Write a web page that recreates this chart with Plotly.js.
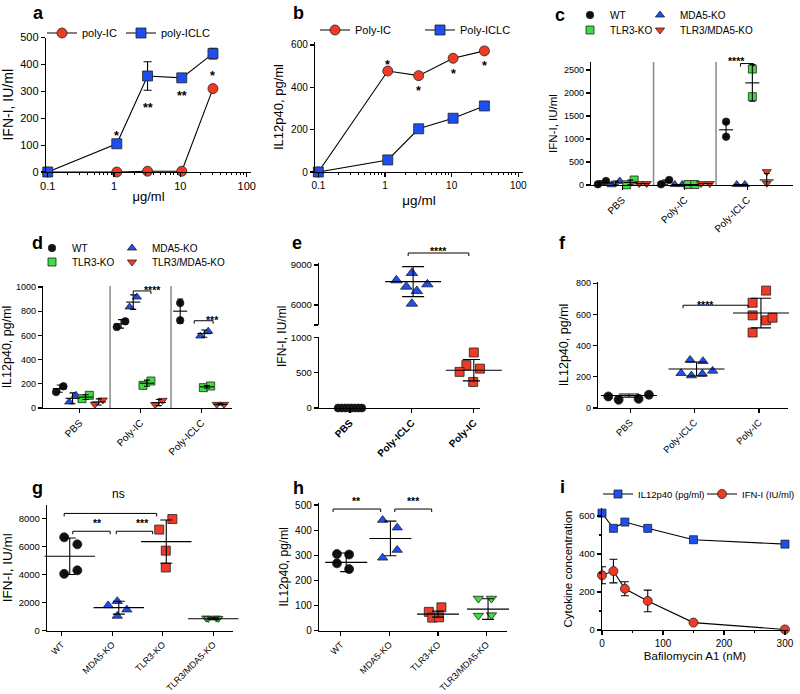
<!DOCTYPE html>
<html><head><meta charset="utf-8">
<script src="https://cdn.plot.ly/plotly-3.0.1.min.js"></script>
<style>html,body{margin:0;padding:0;background:#fff;overflow:hidden;width:800px;height:694px}#chart{width:800px;height:694px;overflow:hidden}</style>
</head><body><div id="chart"></div>
<script>
// ---------------- data ----------------
// panel a
const aDose = [0.1, 1.1, 3.2, 10.5, 31];
const aPolyIC = [0, 0, 3, 3, 310];
const aPolyICLC = [0, 105, 357, 350, 440];
const aPolyICLCerr = [0, 0, 53, 0, 20];
// panel b
const bDose = [0.1, 1.1, 3.2, 10.5, 31];
const bPolyIC = [0, 477, 455, 537, 572];
const bPolyICLC = [0, 57, 204, 254, 312];
// panel c (x = category index + jitter)
const cCats = ['PBS', 'Poly-IC', 'Poly-ICLC'];
const cWTx = [0.11, 0.24, 1.12, 1.25, 2.16, 2.16], cWTy = [15, 87, 15, 109, 1050, 1377];
const cMDAx = [0.33, 0.46, 1.34, 1.46, 2.33, 2.46], cMDAy = [5, 87, 10, 10, 10, 10];
const cTLRx = [0.57, 0.69, 1.55, 1.66, 2.58, 2.58], cTLRy = [5, 109, 10, 10, 1920, 2520];
const cDKOx = [0.77, 0.89, 1.76, 1.90, 2.81, 2.81], cDKOy = [30, 30, 30, 30, 36, 290];
const cWTmx = [0.175, 1.185, 2.16], cWTm = [55, 62, 1200], cWTsd = [35, 45, 150];
const cMDAmx = [0.395, 1.40, 2.395], cMDAm = [45, 10, 10], cMDAsd = [40, 0, 0];
const cTLRmx = [0.63, 1.605, 2.58], cTLRm = [55, 10, 2220], cTLRsd = [50, 0, 400];
const cDKOmx = [0.83, 1.83, 2.81], cDKOm = [30, 30, 110], cDKOsd = [0, 0, 140];
// panel d
const dWTx = [0.115, 0.235, 1.11, 1.25, 2.15, 2.15], dWTy = [132, 179, 669, 716, 868, 725];
const dMDAx = [0.33, 0.44, 1.32, 1.44, 2.48, 2.61], dMDAy = [50, 105, 835, 917, 595, 634];
const dTLRx = [0.54, 0.66, 1.54, 1.67, 2.53, 2.65], dTLRy = [77, 105, 187, 223, 168, 182];
const dDKOx = [0.75, 0.88, 1.74, 1.86, 2.75, 2.87], dDKOy = [30, 66, 28, 63, 30, 30];
const dWTmx = [0.175, 1.18, 2.15], dWTm = [160, 695, 800], dWTsd = [30, 35, 100];
const dMDAmx = [0.385, 1.38, 2.545], dMDAm = [80, 875, 615], dMDAsd = [45, 60, 30];
const dTLRmx = [0.60, 1.605, 2.59], dTLRm = [90, 205, 175], dTLRsd = [20, 25, 10];
const dDKOmx = [0.815, 1.80, 2.81], dDKOm = [50, 45, 30], dDKOsd = [25, 25, 5];
// panel e
const eCats = ['PBS', 'Poly-ICLC', 'Poly-IC'];
const ePBSx = [-0.19, -0.135, -0.08, -0.025, 0.025, 0.08, 0.135, 0.19], ePBSy = [0, 0, 0, 0, 0, 0, 0, 0];
const eICLCx = [0.75, 1.0, 0.91, 1.08, 1.25, 1.0], eICLCy = [7850, 8400, 7375, 7050, 7550, 6100];
const eICx = [2.0, 1.88, 1.77, 2.1, 1.99, 2.19], eICy = [790, 610, 514, 560, 371, 395];
const eICLCmx = [1.02], eICLCm = [7750], eICLCsd = [1125];
const eICmx = [2.0], eICm = [538], eICsd = [152];
// panel f
const fPBSx = [-0.34, -0.18, 0.13, 0.29], fPBSy = [74, 53, 59, 85];
const fICLCx = [0.93, 1.13, 0.79, 0.95, 1.12, 1.28], fICLCy = [308, 300, 223, 208, 219, 238];
const fICx = [2.11, 1.9, 1.9, 2.11, 2.21, 1.9], fICy = [753, 675, 594, 562, 579, 484];
const fMx = [-0.02, 1.03, 2.03], fM = [80, 250, 609], fSD = [10, 45, 95];
// panel g
const ghCats = ['WT', 'MDA5-KO', 'TLR3-KO', 'TLR3/MDA5-KO'];
const gWTx = [0.05, 0.31, 0.05, 0.31], gWTy = [6650, 6150, 4050, 4300];
const gMDAx = [0.92, 1.10, 1.29, 1.10], gMDAy = [1800, 2100, 1500, 1050];
const gTLRx = [1.93, 2.19, 2.06, 2.06], gTLRy = [7200, 7950, 5700, 4500];
const gDKOx = [2.86, 2.90, 3.06, 3.10], gDKOy = [900, 870, 900, 870];
const gMx = [0.16, 1.13, 2.07, 3.0], gM = [5300, 1640, 6340, 850], gSD = [1300, 460, 1540, 60];
// panel h
const hWTx = [-0.08, 0.17, -0.08, 0.17], hWTy = [305, 303, 268, 245];
const hMDAx = [0.86, 1.16, 1.16, 0.86], hMDAy = [440, 410, 321, 290];
const hTLRx = [1.81, 2.07, 1.88, 2.02], hTLRy = [75, 93, 52, 53];
const hDKOx = [2.83, 3.10, 2.83, 3.10], hDKOy = [128, 128, 60, 62];
const hMx = [0.11, 1.02, 2.0, 3.03], hM = [272, 367, 66, 86], hSD = [37, 69, 12, 41];
// panel i
const iDose = [0, 18.75, 37.5, 75, 150, 300];
const iIL12 = [615, 535, 568, 535, 475, 452];
const iIFN = [288, 310, 217, 153, 39, 3];
const iIFNerr = [45, 62, 37, 57, 0, 0];

// ---------------- style ----------------
const F = 'Liberation Sans, Arial, Helvetica, sans-serif';
const RED = '#ef3b24', BLUE = '#1d4ff0', GREEN = '#3edc3e', BLACK = '#111111';
const W = 800, H = 694;
const px = v => v / W;
const py = v => 1 - v / H;

function base(fs) {
  return {showline: true, linecolor: '#000', linewidth: 1.2, ticks: 'outside', ticklen: 4, tickwidth: 1.2,
    tickcolor: '#000', showgrid: false, zeroline: false, fixedrange: true, automargin: false,
    tickfont: {family: F, size: fs || 10, color: '#000'}};
}
function X(l, r, range, anchor, extra, fs) { return Object.assign(base(fs), {domain: [px(l), px(r)], range: range, anchor: anchor}, extra || {}); }
function Y(t, b, range, anchor, extra, fs) { return Object.assign(base(fs), {domain: [py(b), py(t)], range: range, anchor: anchor}, extra || {}); }
function ttl(text, size, standoff) { return {text: text, font: {family: F, size: size || 12, color: '#000'}, standoff: standoff === undefined ? 4 : standoff}; }

const logMinor = [];
[0.1, 1, 10].forEach(d => { for (let k = 2; k <= 9; k++) logMinor.push(+(d * k).toFixed(2)); });
const minorLog = {tickvals: logMinor, ticks: 'outside', ticklen: 2, tickcolor: '#000', tickwidth: 1};

const catX = (vals, text, bold) => ({tickmode: 'array', tickvals: vals, ticktext: text.map(t => bold ? '<b>' + t + '</b>' : t), tickangle: -45});

const L = {
  width: W, height: H, margin: {l: 0, r: 0, t: 0, b: 0, pad: 0, autoexpand: false}, paper_bgcolor: '#fff', plot_bgcolor: 'rgba(0,0,0,0)',
  showlegend: true, font: {family: F, color: '#000'}
};
L.xaxis = X(46, 251, [-1.026, 2.065], 'y', {type: 'log', tickmode: 'array', tickvals: [0.1, 1, 10, 100], ticktext: ['0.1', '1', '10', '100'], minor: minorLog, title: ttl('μg/ml', 13, 0)}, 11);
L.yaxis = Y(37.5, 172, [0, 500], 'x', {dtick: 100, title: ttl('IFN-I, IU/ml', 14)}, 11);
L.xaxis2 = X(315, 523, [-1.05, 2.07], 'y2', {type: 'log', tickmode: 'array', tickvals: [0.1, 1, 10, 100], ticktext: ['0.1', '1', '10', '100'], minor: minorLog, title: ttl('μg/ml', 13.5, 5)}, 10);
L.yaxis2 = Y(42, 172, [0, 614], 'x2', {dtick: 200, title: ttl('IL12p40, pg/ml', 13)}, 10);
L.xaxis3 = X(591, 793, [0, 3.23], 'y3', catX([0.5, 1.5, 2.5], cCats), 10);
L.yaxis3 = Y(62, 185, [0, 2674], 'x3', {dtick: 500, title: ttl('IFN-I, IU/ml', 11.5)}, 9);
L.xaxis4 = X(43, 232, [-0.1, 3.0], 'y4', catX([0.5, 1.5, 2.5], cCats), 10);
L.yaxis4 = Y(286, 408, [0, 1008], 'x4', {dtick: 200, title: ttl('IL12p40, pg/ml', 12.5)}, 9);
L.xaxis5 = X(319, 480, [-0.5, 2.1], 'y5', catX([0, 1, 2], eCats, true), 10);
L.yaxis5 = Y(337, 408, [0, 1010], 'x5', {tickvals: [0, 500, 1000]}, 9.5);
L.yaxis10 = Y(263, 325, [4500, 9150], 'x5', {tickmode: 'array', tickvals: [4500, 6000, 9000], ticktext: ['', '6000', '9000']}, 9.5);
L.xaxis6 = X(598, 788, [-0.5, 2.45], 'y6', catX([0, 1, 2], eCats), 9.5);
L.yaxis6 = Y(282, 408, [0, 808], 'x6', {dtick: 200, title: ttl('IL12p40, pg/ml', 12.5)}, 9);
L.xaxis7 = X(47, 233, [-0.29, 3.39], 'y7', catX([0, 1, 2, 3], ghCats), 9);
L.yaxis7 = Y(505, 630.7, [0, 8950], 'x7', {dtick: 2000, title: ttl('IFN-I, IU/ml', 13.5)}, 9.5);
L.xaxis8 = X(319, 507, [-0.45, 3.42], 'y8', catX([0, 1, 2, 3], ghCats), 9);
L.yaxis8 = Y(503, 630.7, [0, 508], 'x8', {dtick: 100, title: ttl('IL12p40, pg/ml', 12)}, 10);
L.xaxis9 = X(602, 788, [0, 305], 'y9', {dtick: 100, minor: {dtick: 50, ticks: 'outside', ticklen: 2, tickcolor: '#000'}, title: ttl('Bafilomycin A1 (nM)', 11.5, 3)}, 10);
L.yaxis9 = Y(508, 630, [0, 642], 'x9', {dtick: 200, minor: {dtick: 100, ticks: 'outside', ticklen: 2, tickcolor: '#000'}, title: ttl('Cytokine concentration', 11.5)}, 9.5);

function leg(xpx, ypx, fs) {
  return {x: px(xpx), y: py(ypx), xanchor: 'left', yanchor: 'middle', orientation: 'h',
    bgcolor: 'rgba(0,0,0,0)', borderwidth: 0, font: {family: F, size: fs, color: '#000'}, itemclick: false, itemdoubleclick: false};
}
// one legend per entry so each entry sits where the reference puts it
L.legend = leg(42, 33, 11);      // a poly-IC
L.legend2 = leg(121, 33, 11);    // a poly-ICLC
L.legend3 = leg(315, 30, 11);    // b Poly-IC
L.legend4 = leg(420, 30, 11);    // b Poly-ICLC
L.legend5 = leg(570, 15, 10);    // c WT
L.legend6 = leg(640, 15, 10);    // c MDA5-KO
L.legend7 = leg(570, 30, 10);    // c TLR3-KO
L.legend8 = leg(640, 30, 10);    // c TLR3/MDA5-KO
L.legend9 = leg(32, 248, 10);    // d WT
L.legend10 = leg(112, 248, 10);  // d MDA5-KO
L.legend11 = leg(32, 262, 10);   // d TLR3-KO
L.legend12 = leg(112, 262, 10);  // d TLR3/MDA5-KO
L.legend13 = leg(598, 494, 9.5); // i IL12p40
L.legend14 = leg(702, 494, 9.5); // i IFN-I

// ---------------- traces ----------------
const T = [];
function mk(sym, color, size) { return {symbol: sym, color: color, size: size, line: {color: '#222', width: 0.8}}; }
function pts(x, y, xa, ya, sym, color, size, name, legend) {
  return {type: 'scatter', mode: 'markers', x: x, y: y, xaxis: xa, yaxis: ya, name: name || '', showlegend: !!legend,
    legend: legend || 'legend', cliponaxis: false, hoverinfo: 'skip', marker: mk(sym, color, size)};
}
function means(x, y, sd, xa, ya, w, cap) {
  return {type: 'scatter', mode: 'markers', x: x, y: y, xaxis: xa, yaxis: ya, showlegend: false, cliponaxis: false, hoverinfo: 'skip',
    marker: {symbol: 'line-ew', size: w, color: '#000', line: {color: '#000', width: 1.1}},
    error_y: {type: 'data', array: sd, symmetric: true, color: '#000', thickness: 1.1, width: cap}};
}
function lineTr(x, y, xa, ya, sym, color, size, name, legend, err) {
  const t = {type: 'scatter', mode: 'lines+markers', x: x, y: y, xaxis: xa, yaxis: ya, name: name, legend: legend,
    showlegend: true, cliponaxis: false, hoverinfo: 'skip', line: {color: '#000', width: 1.1}, marker: mk(sym, color, size)};
  if (err) t.error_y = {type: 'data', array: err, symmetric: true, color: '#000', thickness: 1.1, width: 4};
  return t;
}
// a
T.push(lineTr(aDose, aPolyIC, 'x', 'y', 'circle', RED, 10, 'poly-IC', 'legend'));
T.push(lineTr(aDose, aPolyICLC, 'x', 'y', 'square', BLUE, 10, 'poly-ICLC', 'legend2', aPolyICLCerr));
// b
T.push(lineTr(bDose, bPolyIC, 'x2', 'y2', 'circle', RED, 10, 'Poly-IC', 'legend3'));
T.push(lineTr(bDose, bPolyICLC, 'x2', 'y2', 'square', BLUE, 10, 'Poly-ICLC', 'legend4'));
// c
T.push(pts(cWTx, cWTy, 'x3', 'y3', 'circle', BLACK, 7.5, 'WT', 'legend5'));
T.push(pts(cMDAx, cMDAy, 'x3', 'y3', 'triangle-up', BLUE, 8, 'MDA5-KO', 'legend6'));
T.push(pts(cTLRx, cTLRy, 'x3', 'y3', 'square', GREEN, 8, 'TLR3-KO', 'legend7'));
T.push(pts(cDKOx, cDKOy, 'x3', 'y3', 'triangle-down', RED, 8, 'TLR3/MDA5-KO', 'legend8'));
T.push(means(cWTmx, cWTm, cWTsd, 'x3', 'y3', 10, 3));
T.push(means(cMDAmx, cMDAm, cMDAsd, 'x3', 'y3', 10, 3));
T.push(means(cTLRmx, cTLRm, cTLRsd, 'x3', 'y3', 10, 3));
T.push(means(cDKOmx, cDKOm, cDKOsd, 'x3', 'y3', 10, 3));
// d
T.push(pts(dWTx, dWTy, 'x4', 'y4', 'circle', BLACK, 7.5, 'WT', 'legend9'));
T.push(pts(dMDAx, dMDAy, 'x4', 'y4', 'triangle-up', BLUE, 8, 'MDA5-KO', 'legend10'));
T.push(pts(dTLRx, dTLRy, 'x4', 'y4', 'square', GREEN, 8, 'TLR3-KO', 'legend11'));
T.push(pts(dDKOx, dDKOy, 'x4', 'y4', 'triangle-down', RED, 8, 'TLR3/MDA5-KO', 'legend12'));
T.push(means(dWTmx, dWTm, dWTsd, 'x4', 'y4', 10, 3));
T.push(means(dMDAmx, dMDAm, dMDAsd, 'x4', 'y4', 10, 3));
T.push(means(dTLRmx, dTLRm, dTLRsd, 'x4', 'y4', 10, 3));
T.push(means(dDKOmx, dDKOm, dDKOsd, 'x4', 'y4', 10, 3));
// e
T.push(pts(ePBSx, ePBSy, 'x5', 'y5', 'circle', BLACK, 8));
T.push(pts(eICLCx, eICLCy, 'x5', 'y10', 'triangle-up', BLUE, 10));
T.push(pts(eICx, eICy, 'x5', 'y5', 'square', RED, 9));
T.push(means(eICLCmx, eICLCm, eICLCsd, 'x5', 'y10', 40, 11));
T.push(means(eICmx, eICm, eICsd, 'x5', 'y5', 40, 11));
// f
T.push(pts(fPBSx, fPBSy, 'x6', 'y6', 'circle', BLACK, 9));
T.push(pts(fICLCx, fICLCy, 'x6', 'y6', 'triangle-up', BLUE, 9));
T.push(pts(fICx, fICy, 'x6', 'y6', 'square', RED, 9));
T.push(means(fMx, fM, fSD, 'x6', 'y6', 40, 10));
// g
T.push(pts(gWTx, gWTy, 'x7', 'y7', 'circle', BLACK, 9));
T.push(pts(gMDAx, gMDAy, 'x7', 'y7', 'triangle-up', BLUE, 9));
T.push(pts(gTLRx, gTLRy, 'x7', 'y7', 'square', RED, 9));
T.push(pts(gDKOx, gDKOy, 'x7', 'y7', 'triangle-down', GREEN, 8));
T.push(means(gMx, gM, gSD, 'x7', 'y7', 36, 6));
// h
T.push(pts(hWTx, hWTy, 'x8', 'y8', 'circle', BLACK, 9));
T.push(pts(hMDAx, hMDAy, 'x8', 'y8', 'triangle-up', BLUE, 9));
T.push(pts(hTLRx, hTLRy, 'x8', 'y8', 'square', RED, 9));
T.push(pts(hDKOx, hDKOy, 'x8', 'y8', 'triangle-down', GREEN, 9));
T.push(means(hMx, hM, hSD, 'x8', 'y8', 30, 6));
// i
T.push(lineTr(iDose, iIL12, 'x9', 'y9', 'square', BLUE, 8, 'IL12p40 (pg/ml)', 'legend13'));
T.push(lineTr(iDose, iIFN, 'x9', 'y9', 'circle', RED, 9, 'IFN-I (IU/ml)', 'legend14', iIFNerr));

// ---------------- annotations / brackets ----------------
function toPX(ax, v) { const d = ax.domain, r = ax.range; const vv = ax.type === 'log' ? Math.log10(v) : v; return d[0] + (vv - r[0]) / (r[1] - r[0]) * (d[1] - d[0]); }
const ann = [];
const shapes = [];
// panel letters
[['a', 38, 13], ['b', 298, 13], ['c', 560, 15], ['d', 37, 243], ['e', 297, 243], ['f', 562, 243], ['g', 37, 488], ['h', 298, 488], ['i', 562, 487]]
  .forEach(p => ann.push({text: '<b>' + p[0] + '</b>', xref: 'paper', yref: 'paper', x: px(p[1]), y: py(p[2]), showarrow: false,
    font: {family: F, size: 18, color: '#000'}, xanchor: 'center', yanchor: 'middle'}));
// e y title spanning broken axis
ann.push({text: 'IFN-I, IU/ml', xref: 'paper', yref: 'paper', x: px(282), y: py(337), textangle: -90, showarrow: false,
  font: {family: F, size: 12, color: '#000'}});
// stars (xa, ya, x, y, label)
const stars = [
  ['x', 'y', 1.1, 150, '*'], ['x', 'y', 3.2, 254, '**'], ['x', 'y', 10.5, 299, '**'], ['x', 'y', 31, 370, '*'],
  ['x2', 'y2', 1.1, 525, '*'], ['x2', 'y2', 3.2, 402, '*'], ['x2', 'y2', 10.5, 483, '*'], ['x2', 'y2', 31, 521, '*']
];
stars.forEach(s => {
  const xa = L['xaxis' + s[0].slice(1)];
  ann.push({text: '<b>' + s[4] + '</b>', xref: s[0], yref: s[1], x: xa.type === 'log' ? Math.log10(s[2]) : s[2], y: s[3], showarrow: false,
    yshift: -4, font: {family: F, size: 12.5, color: '#000'}});
});
// brackets: [xaxis key, yaxis key, x0, x1, y, label, labelY]
const brackets = [
  ['xaxis3', 'yaxis3', 2.39, 2.6, 2640, '****', 2950],
  ['xaxis4', 'yaxis4', 1.38, 1.67, 967, '****', 1010],
  ['xaxis4', 'yaxis4', 2.38, 2.69, 721, '***', 760],
  ['xaxis5', 'yaxis10', 0.94, 1.92, 9900, '****', 10372],
  ['xaxis6', 'yaxis6', 0.82, 1.83, 659, '****', 687],
  ['xaxis7', 'yaxis7', 0.05, 1.88, 8350, 'ns', 9062],
  ['xaxis7', 'yaxis7', 0.22, 0.96, 7080, '**', 7385],
  ['xaxis7', 'yaxis7', 1.08, 1.80, 7080, '***', 7385],
  ['xaxis8', 'yaxis8', -0.16, 0.82, 484, '**', 502],
  ['xaxis8', 'yaxis8', 1.11, 1.87, 484, '***', 502]
];
brackets.forEach(b => {
  const xa = L[b[0]], ya = L[b[1]];
  const x0 = toPX(xa, b[2]), x1 = toPX(xa, b[3]), y = toPX(ya, b[4]), dy = 3 / H;
  shapes.push({type: 'path', xref: 'paper', yref: 'paper', path: `M${x0},${y - dy}L${x0},${y}L${x1},${y}L${x1},${y - dy}`,
    line: {color: '#000', width: 1}});
  const isNs = b[5] === 'ns';
  ann.push({text: isNs ? 'ns' : '<b>' + b[5] + '</b>', xref: 'paper', yref: 'paper', x: (x0 + x1) / 2, y: toPX(ya, b[6]), showarrow: false,
    yshift: isNs ? 0 : -4, font: {family: F, size: isNs ? 12 : 10.5, color: '#000'}});
});
// separators in c and d
[['xaxis3', 'yaxis3'], ['xaxis4', 'yaxis4']].forEach(k => {
  const xa = L[k[0]], ya = L[k[1]];
  [1, 2].forEach(v => shapes.push({type: 'line', xref: 'paper', yref: 'paper', x0: toPX(xa, v), x1: toPX(xa, v),
    y0: ya.domain[0], y1: ya.domain[1], line: {color: '#8a8a8a', width: 1.5}, layer: 'below'}));
});
L.annotations = ann;
L.shapes = shapes;

Plotly.newPlot('chart', T, L, {staticPlot: true, displayModeBar: false});
</script>
</body></html>
